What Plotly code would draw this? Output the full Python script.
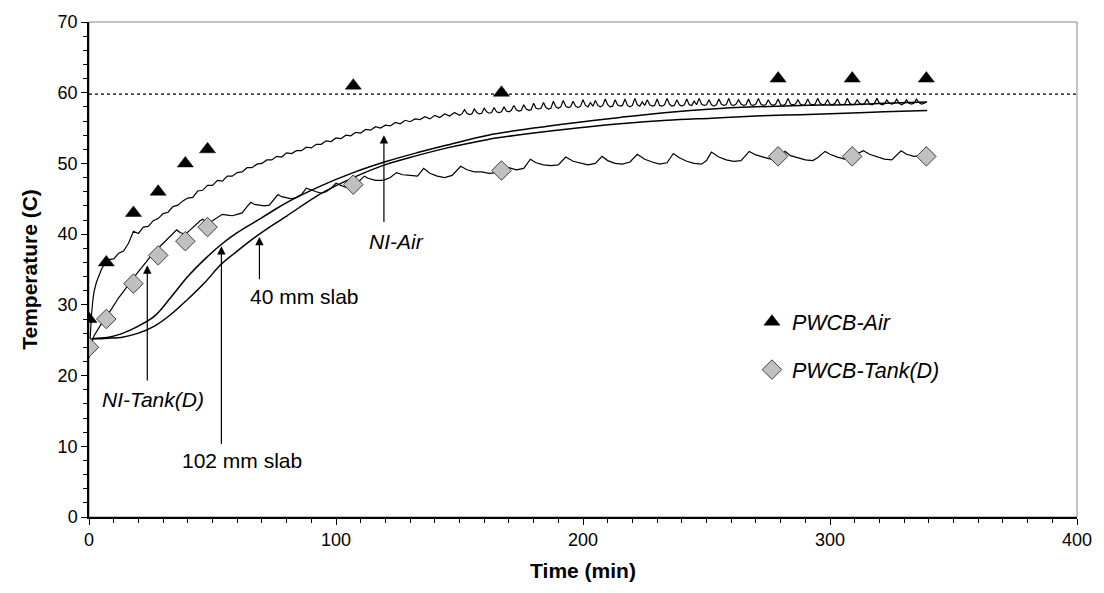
import plotly.graph_objects as go

# ---------------- data ----------------
time_pwcb = [0, 7, 18, 28, 39, 48, 107, 167, 279, 309, 339]
pwcb_air = [28, 36, 43, 46, 50, 52, 61, 60, 62, 62, 62]
pwcb_tank = [24, 28, 33, 37, 39, 41, 47, 49, 51, 51, 51]

# NI-Air (measured air temperature, noisy record)
ni_air_t = [0, 0.5, 1, 1.5, 2, 3, 4, 5, 6,
            8, 10, 12, 14, 16, 18, 20, 22, 24, 26,
            28, 30, 32, 34, 36, 38, 40, 42, 44, 46,
            48, 50, 52, 54, 56, 58, 60, 62, 64, 66,
            68, 70, 72, 74, 76, 78, 80, 82, 84, 86,
            88, 90, 92, 94, 96, 98, 100, 102, 104, 106,
            108, 110, 112, 114, 116, 118, 120, 122, 124, 126,
            128, 130, 132, 134, 136, 138, 140, 142, 144, 146, 148,
            150, 151, 152, 153, 154, 155, 156, 157, 158, 159,
            160, 161, 162, 163, 164, 165, 166, 167, 168, 169,
            170, 171, 172, 173, 174, 175, 176, 177, 178, 179,
            180, 181, 182, 183, 184, 185, 186, 187, 188, 189,
            190, 191, 192, 193, 194, 195, 196, 197, 198, 199,
            200, 201, 202, 203, 204, 205, 206, 207, 208, 209,
            210, 211, 212, 213, 214, 215, 216, 217, 218, 219,
            220, 221, 222, 223, 224, 225, 226, 227, 228, 229,
            230, 231, 232, 233, 234, 235, 236, 237, 238, 239,
            240, 241, 242, 243, 244, 245, 246, 247, 248, 249,
            250, 251, 252, 253, 254, 255, 256, 257, 258, 259,
            260, 261, 262, 263, 264, 265, 266, 267, 268, 269,
            270, 271, 272, 273, 274, 275, 276, 277, 278, 279,
            280, 281, 282, 283, 284, 285, 286, 287, 288, 289,
            290, 291, 292, 293, 294, 295, 296, 297, 298, 299,
            300, 301, 302, 303, 304, 305, 306, 307, 308, 309,
            310, 311, 312, 313, 314, 315, 316, 317, 318, 319,
            320, 321, 322, 323, 324, 325, 326, 327, 328, 329,
            330, 331, 332, 333, 334, 335, 336, 337, 338, 339]
ni_air = [22.5, 26.0, 28.5, 30.5, 31.8, 33.2, 34.2, 35.0, 35.6,
          36.4, 36.5, 37.3, 37.6, 38.7, 40.4, 40.1, 41.0, 41.1, 41.9,
          42.2, 42.9, 43.1, 43.9, 44.1, 44.7, 45.1, 45.2, 46.1, 46.2,
          46.9, 46.9, 47.6, 47.5, 48.2, 48.2, 48.7, 48.8, 49.4, 49.4,
          49.9, 50.0, 50.5, 50.5, 51.0, 50.9, 51.5, 51.4, 51.8, 51.8,
          52.3, 52.2, 52.7, 52.7, 53.2, 53.1, 53.6, 53.5, 54.0, 53.9,
          54.4, 54.3, 54.8, 54.7, 55.2, 55.0, 55.4, 55.3, 55.8, 55.6,
          56.1, 55.9, 56.3, 56.2, 56.6, 56.3, 56.8, 56.5, 57.0, 56.7, 57.2,
          56.8, 57.0, 57.6, 57.1, 56.9, 57.0, 57.7, 57.2, 57.0, 57.1,
          57.8, 57.3, 57.1, 57.2, 57.9, 57.3, 57.2, 57.3, 58.0, 57.4,
          57.3, 57.5, 58.2, 57.6, 57.4, 57.5, 58.3, 57.7, 57.5, 57.6,
          58.5, 57.8, 57.7, 57.8, 58.6, 57.9, 57.7, 57.8, 58.8, 58.0,
          57.8, 58.0, 58.9, 58.1, 57.9, 58.0, 58.8, 58.1, 57.9, 58.1,
          59.0, 58.2, 58.0, 58.6, 58.1, 58.9, 58.2, 58.0, 58.2, 59.1,
          58.3, 58.0, 58.1, 59.0, 58.3, 58.1, 58.2, 59.1, 58.2, 58.0,
          58.2, 59.2, 58.3, 58.1, 58.7, 58.2, 59.0, 58.3, 58.1, 58.2,
          59.1, 58.2, 58.1, 58.3, 59.2, 58.4, 58.1, 58.2, 59.0, 58.3,
          58.1, 58.3, 59.1, 58.3, 58.2, 58.8, 58.3, 59.2, 58.4, 58.2,
          58.3, 59.0, 58.3, 58.1, 58.3, 59.1, 58.4, 58.2, 58.3, 59.2,
          58.3, 58.2, 58.4, 59.0, 58.4, 58.2, 58.3, 59.1, 58.3, 58.2,
          58.4, 59.2, 58.4, 58.2, 58.3, 59.0, 58.4, 58.2, 58.4, 59.1,
          58.3, 58.2, 58.4, 59.2, 58.4, 58.3, 58.4, 59.0, 58.4, 58.2,
          58.4, 59.1, 58.4, 58.3, 58.4, 59.2, 58.5, 58.3, 58.4, 59.0,
          58.4, 58.3, 58.5, 59.1, 58.4, 58.3, 58.4, 59.2, 58.5, 58.3,
          58.4, 59.0, 58.5, 58.3, 58.5, 59.1, 58.4, 58.3, 58.5, 59.2,
          58.5, 58.3, 58.4, 59.0, 58.5, 58.4, 58.5, 59.1, 58.5, 58.3,
          58.5, 59.0, 58.5, 58.4, 58.5, 59.1, 58.6, 58.4, 58.5, 58.7]

# NI-Tank(D) (measured tank temperature)
ni_tank_t = [0, 1, 2, 4, 6, 8, 10, 12, 14, 16, 18, 20, 22, 24, 26, 28, 30, 32, 34,
             35.5, 37, 39, 41, 43, 45, 46, 48, 50, 52, 54, 56, 58, 60, 62, 64,
             65.5, 67, 69, 71, 73, 75, 76.5, 78, 80, 82, 84, 86, 88, 90, 92, 94,
             96, 98, 100, 102, 104, 106, 108, 110, 111.5, 113, 116, 119, 122,
             124.5, 127, 130, 133, 135.5, 138, 141, 144, 147, 150.5, 153, 156,
             159, 162, 165, 167, 170, 173, 176, 178.7, 181, 184, 187, 190, 193,
             196, 199, 202, 205, 207.7, 210, 213, 216, 219, 222, 225, 228, 231,
             234, 236.6, 239, 242, 245, 248, 250, 252, 255, 258, 261, 264,
             267.3, 270, 273, 276, 279, 281.8, 284, 287, 290, 293, 295, 298,
             300, 303, 306, 309, 313.5, 316, 319, 322, 325, 328.8, 331, 334,
             337, 339.3]
ni_tank = [22.8, 24.5, 25.6, 26.8, 27.9, 28.8, 29.9, 31.0, 31.9, 32.9, 33.8, 34.7,
           35.6, 36.5, 37.3, 38.0, 38.7, 39.4, 40.2,
           40.6, 40.2, 40.0, 40.6, 41.3, 41.9, 42.1, 41.6, 41.9, 42.4, 42.8, 42.7,
           42.6, 42.8, 43.0, 43.9,
           44.5, 44.2, 44.1, 44.0, 44.1, 44.9, 45.6, 45.3, 45.1, 45.0, 45.2, 45.6,
           46.5, 46.2, 46.0, 45.8,
           46.0, 46.5, 47.2, 46.9, 46.6, 46.7, 47.0, 47.7, 48.2, 47.9, 47.6, 47.6,
           48.0,
           48.7, 48.4, 48.3, 48.2, 49.3, 48.6, 48.2, 48.0, 48.3, 49.6, 49.1, 48.8,
           48.8, 48.6, 48.7, 49.0, 49.4, 49.1, 49.3, 50.6, 50.1, 49.8, 49.7, 49.8,
           50.9,
           50.3, 50.0, 49.8, 50.0, 51.0, 50.4, 50.0, 49.9, 50.2, 51.3, 50.6, 50.2,
           49.9,
           50.1, 51.4, 50.8, 50.3, 50.0, 49.9, 50.4, 51.6, 50.9, 50.5, 50.3, 50.4,
           51.7, 51.2, 50.9, 50.6, 50.8, 51.7, 51.1, 50.8, 50.5, 50.4, 50.8, 51.7,
           51.3, 50.9, 50.6, 51.0, 51.8, 51.3, 50.9, 50.6, 50.5, 51.8, 51.3, 51.0,
           51.1, 51.2]

# model predictions
slab_t = [1, 5, 9, 13, 20, 26.5, 33, 40, 47, 53.4, 60, 67, 74, 80.2, 93.7, 107,
          120.6, 132.7, 145, 161.6, 180, 197.6, 215, 234, 252, 270, 288, 306,
          322, 339.3]
slab_102 = [25.2, 25.3, 25.5, 25.9, 27.0, 28.4, 31.0, 34.0, 36.5, 38.5, 40.2,
            41.7, 43.2, 44.5, 46.8, 48.7, 50.3, 51.5, 52.6, 54.0, 55.0, 55.8,
            56.5, 57.2, 57.7, 58.0, 58.2, 58.3, 58.5, 58.7]
slab_40 = [25.2, 25.2, 25.3, 25.4, 26.0, 27.0, 28.6, 30.8, 33.2, 35.7, 37.6,
           39.5, 41.2, 42.6, 45.7, 48.0, 49.9, 51.1, 52.2, 53.4, 54.3, 55.0,
           55.6, 56.1, 56.4, 56.7, 56.9, 57.1, 57.3, 57.5]

target_temp = 59.8

x_ticks = [0, 100, 200, 300, 400]
y_ticks = [0, 10, 20, 30, 40, 50, 60, 70]

FONT = "Liberation Sans, Arial, sans-serif"

fig = go.Figure()

line_style = dict(color="black", width=1.2)
fig.add_trace(go.Scatter(x=ni_air_t, y=ni_air, mode="lines", line=line_style,
                         showlegend=False, name="NI-Air"))
fig.add_trace(go.Scatter(x=ni_tank_t, y=ni_tank, mode="lines", line=line_style,
                         showlegend=False, name="NI-Tank(D)"))
fig.add_trace(go.Scatter(x=slab_t, y=slab_102, mode="lines",
                         line=dict(color="black", width=1.5, shape="spline"),
                         showlegend=False, name="102 mm slab"))
fig.add_trace(go.Scatter(x=slab_t, y=slab_40, mode="lines",
                         line=dict(color="black", width=1.5, shape="spline"),
                         showlegend=False, name="40 mm slab"))

fig.add_trace(go.Scatter(x=time_pwcb, y=pwcb_air, mode="markers",
                         name="<i>PWCB-Air</i>", legendgroup="a",
                         marker=dict(symbol="triangle-up", size=14, color="black",
                                     line=dict(color="black", width=0.5))))
fig.add_trace(go.Scatter(x=time_pwcb, y=pwcb_tank, mode="markers",
                         name="<i>PWCB-Tank(D)</i>", legendgroup="b",
                         marker=dict(symbol="diamond", size=15, color="#c0c0c0",
                                     line=dict(color="#404040", width=1))))

# reference line
fig.add_shape(type="line", xref="paper", x0=0, x1=1, yref="y",
              y0=target_temp, y1=target_temp,
              line=dict(color="black", width=1.2, dash="dot"))
# plot frame (grey top/right)
fig.add_shape(type="rect", xref="paper", yref="paper", x0=0, x1=1, y0=0, y1=1,
              line=dict(color="#888888", width=1), layer="below")

arrows = [
    (119.4, 54.0, 41.5),
    (69.0, 39.6, 33.4),
    (53.6, 38.3, 10.1),
    (23.6, 35.6, 19.1),
]
for xa, ytip, ytail in arrows:
    fig.add_annotation(x=xa, y=ytip, ax=xa, ay=ytail, axref="x", ayref="y",
                       xref="x", yref="y", text="", showarrow=True,
                       arrowhead=2, arrowsize=1.4, arrowwidth=1.2,
                       arrowcolor="black", standoff=0, startstandoff=0)

labels = [
    ("<i>NI-Air</i>", 124.6, 38.9),
    ("40 mm slab", 87.3, 31.2),
    ("102 mm slab", 62.1, 8.0),
    ("<i>NI-Tank(D)</i>", 25.9, 16.6),
]
for txt, xl, yl in labels:
    fig.add_annotation(x=xl, y=yl, xref="x", yref="y", text=txt, showarrow=False,
                       font=dict(family=FONT, size=21, color="black"),
                       xanchor="center", yanchor="middle")

fig.update_layout(
    width=1104, height=593,
    margin=dict(l=89, r=23, t=16, b=76),
    paper_bgcolor="white", plot_bgcolor="white",
    font=dict(family=FONT, size=16, color="black"),
    showlegend=True,
    legend=dict(x=0.671, y=0.436, xanchor="left", yanchor="top",
                font=dict(family=FONT, size=21.5, color="black"),
                bgcolor="rgba(0,0,0,0)", tracegroupgap=17, itemwidth=30),
    xaxis=dict(range=[0, 400], tickvals=x_ticks, ticks="outside", ticklen=6,
               tickwidth=1, tickcolor="black", showgrid=False, zeroline=False,
               showline=True, linecolor="black", linewidth=1.5,
               tickfont=dict(family=FONT, size=18),
               minor=dict(dtick=10, ticks="outside", ticklen=4, tickcolor="black"),
               title=dict(text="<b>Time (min)</b>", standoff=14,
                          font=dict(family=FONT, size=21))),
    yaxis=dict(range=[0, 70], tickvals=y_ticks, ticks="outside", ticklen=6,
               tickwidth=1, tickcolor="black", showgrid=False, zeroline=False,
               showline=True, linecolor="black", linewidth=1.5,
               tickfont=dict(family=FONT, size=18),
               minor=dict(dtick=2, ticks="outside", ticklen=4, tickcolor="black"),
               title=dict(text="<b>Temperature (C)</b>", standoff=14,
                          font=dict(family=FONT, size=21))),
)

fig.write_html("out.html",
               config={"displayModeBar": False},
               post_script="document.body.style.margin='0';"
                           "document.body.style.overflow='hidden';")
